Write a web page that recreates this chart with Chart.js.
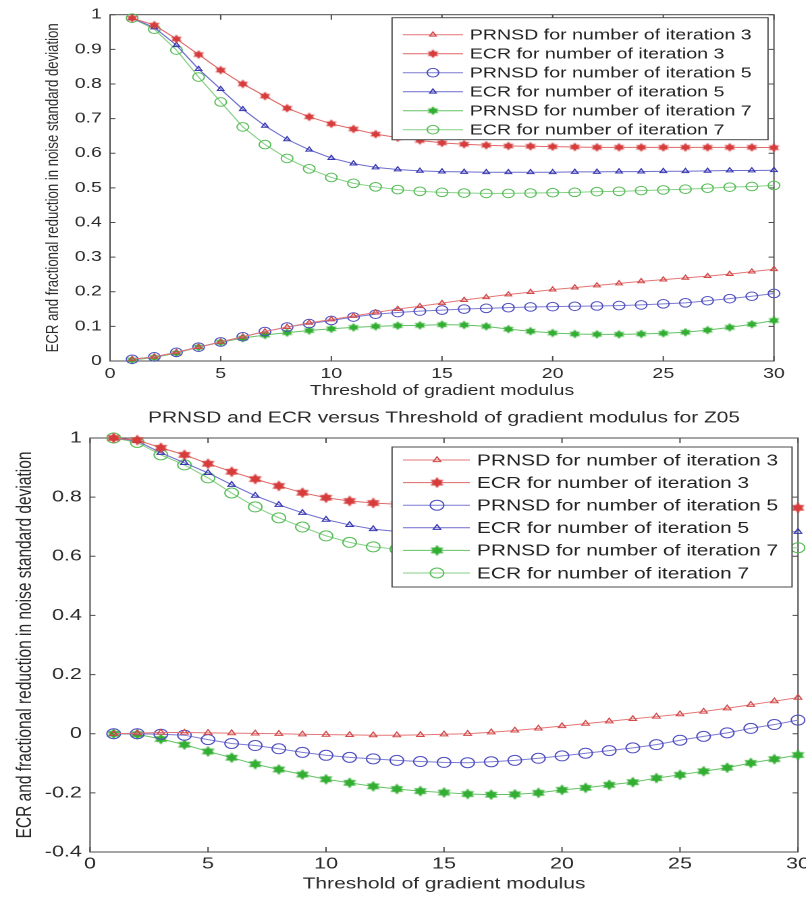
<!DOCTYPE html>
<html>
<head>
<meta charset="utf-8">
<script src="https://cdn.jsdelivr.net/npm/chart.js@4.4.1/dist/chart.umd.min.js"></script>
<style>
  html, body { margin: 0; padding: 0; background: #fff; overflow: hidden; width: 806px; height: 897px; }
  /* the reference figure is stretched sideways, so each panel is drawn narrow and scaled */
  .panel { position: absolute; left: 0; transform-origin: 0 0; transform: scaleX(1.35); }
  #topPanel { top: 0; }
  #bottomPanel { top: 400px; }
</style>
</head>
<body>
<div class="panel" id="topPanel"><canvas id="topChart" width="597" height="405"></canvas></div>
<div class="panel" id="bottomPanel"><canvas id="bottomChart" width="612" height="497"></canvas></div>
<script>
// x values (threshold of gradient modulus)
const thresholds = [1, 2, 3, 4, 5, 6, 7, 8, 9, 10, 11, 12, 13, 14, 15, 16, 17, 18, 19, 20, 21, 22, 23, 24, 25, 26, 27, 28, 29, 30];

const seriesLabels = [
  "PRNSD for number of iteration 3",
  "ECR for number of iteration 3",
  "PRNSD for number of iteration 5",
  "ECR for number of iteration 5",
  "PRNSD for number of iteration 7",
  "ECR for number of iteration 7",
];

// upper figure
const topPrnsd3 = [0.005, 0.012, 0.025, 0.04, 0.055, 0.07, 0.085, 0.098, 0.11, 0.12, 0.13, 0.14, 0.15, 0.158, 0.167, 0.176, 0.184, 0.192, 0.199, 0.206, 0.212, 0.218, 0.224, 0.23, 0.235, 0.24, 0.245, 0.251, 0.258, 0.265];
const topEcr3 = [0.99, 0.97, 0.93, 0.885, 0.84, 0.8, 0.765, 0.73, 0.705, 0.685, 0.67, 0.655, 0.645, 0.637, 0.63, 0.626, 0.623, 0.621, 0.62, 0.619, 0.618, 0.617, 0.617, 0.617, 0.617, 0.617, 0.617, 0.617, 0.617, 0.616];
const topPrnsd5 = [0.005, 0.012, 0.025, 0.04, 0.055, 0.07, 0.085, 0.098, 0.108, 0.117, 0.127, 0.135, 0.14, 0.144, 0.147, 0.15, 0.152, 0.154, 0.156, 0.157, 0.158, 0.159, 0.16, 0.162, 0.165, 0.168, 0.174, 0.18, 0.187, 0.195];
const topEcr5 = [0.99, 0.963, 0.912, 0.843, 0.785, 0.727, 0.679, 0.64, 0.61, 0.586, 0.57, 0.559, 0.553, 0.549, 0.547, 0.546, 0.545, 0.545, 0.545, 0.545, 0.546, 0.546, 0.547, 0.547, 0.548, 0.548, 0.549, 0.55, 0.55, 0.551];
const topPrnsd7 = [0.003, 0.01, 0.023, 0.04, 0.054, 0.066, 0.075, 0.082, 0.088, 0.093, 0.097, 0.1, 0.102, 0.103, 0.105, 0.104, 0.1, 0.092, 0.086, 0.081, 0.078, 0.077, 0.077, 0.078, 0.08, 0.083, 0.089, 0.097, 0.106, 0.117];
const topEcr7 = [0.99, 0.958, 0.898, 0.82, 0.748, 0.676, 0.625, 0.585, 0.555, 0.53, 0.513, 0.503, 0.495, 0.49, 0.487, 0.485, 0.484, 0.484, 0.485, 0.486, 0.487, 0.489, 0.49, 0.492, 0.494, 0.496, 0.499, 0.502, 0.504, 0.507];

// lower figure (Z05)
const botPrnsd3 = [0, 0.002, 0.004, 0.004, 0.003, 0.002, 0.001, 0, -0.002, -0.003, -0.004, -0.005, -0.005, -0.004, -0.002, 0, 0.005, 0.011, 0.018, 0.026, 0.034, 0.042, 0.05, 0.058, 0.066, 0.075, 0.086, 0.098, 0.11, 0.122];
const botEcr3 = [1, 0.993, 0.967, 0.943, 0.913, 0.886, 0.861, 0.838, 0.815, 0.798, 0.787, 0.78, 0.776, 0.773, 0.771, 0.77, 0.769, 0.768, 0.767, 0.767, 0.766, 0.766, 0.766, 0.765, 0.765, 0.765, 0.765, 0.764, 0.764, 0.764];
const botPrnsd5 = [0, 0, -0.002, -0.005, -0.02, -0.033, -0.04, -0.051, -0.063, -0.073, -0.08, -0.085, -0.09, -0.094, -0.097, -0.098, -0.095, -0.09, -0.083, -0.075, -0.066, -0.057, -0.048, -0.037, -0.022, -0.009, 0.003, 0.018, 0.031, 0.046];
const botEcr5 = [1, 0.99, 0.95, 0.916, 0.882, 0.842, 0.805, 0.774, 0.747, 0.724, 0.706, 0.692, 0.684, 0.679, 0.676, 0.674, 0.673, 0.673, 0.673, 0.673, 0.674, 0.674, 0.675, 0.676, 0.677, 0.678, 0.679, 0.68, 0.681, 0.683];
const botPrnsd7 = [0, -0.002, -0.018, -0.037, -0.06, -0.081, -0.103, -0.121, -0.138, -0.154, -0.166, -0.178, -0.187, -0.194, -0.199, -0.204, -0.206, -0.205, -0.2, -0.19, -0.183, -0.173, -0.164, -0.15, -0.139, -0.127, -0.115, -0.099, -0.086, -0.072];
const botEcr7 = [1, 0.985, 0.943, 0.909, 0.865, 0.814, 0.767, 0.73, 0.699, 0.669, 0.647, 0.632, 0.624, 0.619, 0.616, 0.614, 0.613, 0.613, 0.613, 0.614, 0.615, 0.616, 0.617, 0.618, 0.62, 0.621, 0.623, 0.625, 0.627, 0.629];

const FONT = '"Liberation Sans", Arial, sans-serif';
const NONE = "rgba(0,0,0,0)";

// filled six-pointed star, like the matlab 'h' marker
function hexagram(color, size) {
  const c = document.createElement("canvas");
  c.width = size;
  c.height = size;
  const g = c.getContext("2d");
  const r = size / 2;
  g.fillStyle = color;
  g.beginPath();
  for (let k = 0; k < 12; k++) {
    const a = -Math.PI / 2 + (k * Math.PI) / 6;
    const rr = k % 2 === 0 ? r - 0.5 : (r - 0.5) * 0.58;
    const px = r + rr * Math.cos(a);
    const py = r + rr * Math.sin(a);
    if (k === 0) g.moveTo(px, py);
    else g.lineTo(px, py);
  }
  g.closePath();
  g.fill();
  return c;
}

function makeDatasets(values, big) {
  const circleR = big ? 5 : 4.3;
  const triR = big ? 3.2 : 2.8;
  const starSize = big ? 12 : 10;
  const styles = [
    { line: "#e57575", mark: "#d04a4a", shape: "triangle", r: triR, fill: NONE },
    { line: "#e06868", mark: "#d63c3c", shape: hexagram("#d63c3c", starSize), r: 4, fill: "#d63c3c" },
    { line: "#7a7ad2", mark: "#4f4fc0", shape: "circle", r: circleR, fill: NONE },
    { line: "#6c6cce", mark: "#3838b0", shape: "triangle", r: triR, fill: NONE },
    { line: "#62c262", mark: "#32ae32", shape: hexagram("#32ae32", starSize), r: 4, fill: "#32ae32" },
    { line: "#86d086", mark: "#58bd58", shape: "circle", r: circleR, fill: NONE },
  ];
  return values.map((arr, i) => ({
    label: seriesLabels[i],
    data: thresholds.map((t, j) => ({ x: t, y: arr[j] })),
    borderColor: styles[i].line,
    borderWidth: 1,
    pointStyle: styles[i].shape,
    pointRadius: styles[i].r,
    pointBorderColor: styles[i].mark,
    pointBackgroundColor: styles[i].fill,
    pointBorderWidth: 1,
    tension: 0,
    clip: 12,
  }));
}

// matlab style frame with inward ticks on all four sides
const matlabAxes = {
  id: "matlabAxes",
  beforeDatasetsDraw(chart) {
    const { ctx, chartArea: a, scales } = chart;
    ctx.save();
    ctx.strokeStyle = "#4a4a4a";
    ctx.lineWidth = 1;
    ctx.strokeRect(a.left, a.top, a.right - a.left, a.bottom - a.top);
    ctx.beginPath();
    scales.x.ticks.forEach((t) => {
      const px = scales.x.getPixelForValue(t.value);
      ctx.moveTo(px, a.bottom);
      ctx.lineTo(px, a.bottom - 5);
      ctx.moveTo(px, a.top);
      ctx.lineTo(px, a.top + 5);
    });
    scales.y.ticks.forEach((t) => {
      const py = scales.y.getPixelForValue(t.value);
      ctx.moveTo(a.left, py);
      ctx.lineTo(a.left + 4, py);
      ctx.moveTo(a.right, py);
      ctx.lineTo(a.right - 4, py);
    });
    ctx.stroke();
    ctx.restore();
  },
};

// boxed legend in the upper right corner of the axes
const boxLegend = {
  id: "boxLegend",
  afterDraw(chart, args, o) {
    const { ctx, chartArea: a } = chart;
    const left = a.right - o.inset - o.width;
    const top = a.top + o.top;
    ctx.save();
    ctx.fillStyle = "#fff";
    ctx.fillRect(left, top, o.width, o.height);
    ctx.strokeStyle = "#4a4a4a";
    ctx.lineWidth = 1;
    ctx.strokeRect(left, top, o.width, o.height);
    ctx.font = o.font;
    ctx.textBaseline = "middle";
    chart.data.datasets.forEach((ds, i) => {
      const y = top + o.first + i * o.step;
      ctx.strokeStyle = ds.borderColor;
      ctx.lineWidth = 1;
      ctx.beginPath();
      ctx.moveTo(left + o.lineFrom, y);
      ctx.lineTo(left + o.lineTo, y);
      ctx.stroke();
      ctx.strokeStyle = ds.pointBorderColor;
      ctx.fillStyle = ds.pointBackgroundColor;
      Chart.helpers.drawPoint(ctx, { pointStyle: ds.pointStyle, radius: ds.pointRadius, rotation: 0, borderWidth: 1 }, left + o.marker, y);
      ctx.fillStyle = "#222";
      ctx.fillText(ds.label, left + o.text, y + 1);
    });
    ctx.restore();
  },
};

// matlab writes 1 and 0, not 1.0 and 0.0
function plainTick(value) {
  return String(Math.round(value * 100) / 100);
}

function axisOptions(cfg) {
  return {
    x: {
      type: "linear",
      min: 0,
      max: 30,
      grid: { display: false, drawTicks: false },
      border: { display: false },
      ticks: { stepSize: 5, padding: cfg.xPad, color: "#2a2a2a", font: { family: FONT, size: cfg.tick }, callback: plainTick },
      title: {
        display: true,
        text: "Threshold of gradient modulus",
        color: "#2a2a2a",
        font: { family: FONT, size: cfg.xTitle },
        padding: { top: 0, bottom: cfg.xTitlePad },
      },
      afterFit(scale) {
        scale.height = cfg.xHeight;
      },
    },
    y: {
      min: cfg.yMin,
      max: 1,
      grid: { display: false, drawTicks: false },
      border: { display: false },
      ticks: { stepSize: cfg.yStep, padding: cfg.yPad, color: "#2a2a2a", font: { family: FONT, size: cfg.tick }, callback: plainTick },
      title: {
        display: true,
        text: "ECR and fractional reduction in noise standard deviation",
        color: "#2a2a2a",
        font: { family: FONT, size: cfg.yTitle },
        padding: { top: cfg.yTitlePad, bottom: 0 },
      },
      afterFit(scale) {
        scale.width = cfg.yWidth;
      },
    },
  };
}

new Chart(document.getElementById("topChart"), {
  type: "line",
  data: { datasets: makeDatasets([topPrnsd3, topEcr3, topPrnsd5, topEcr5, topPrnsd7, topEcr7], false) },
  plugins: [matlabAxes, boxLegend],
  options: {
    responsive: false,
    animation: false,
    devicePixelRatio: 2,
    layout: { padding: { left: 29, right: 23.7, top: 12, bottom: 0 } },
    scales: axisOptions({
      yMin: 0, yStep: 0.1, tick: 14.5, xTitle: 14.5, yTitle: 13.2,
      xPad: 4.4, yPad: 6, xTitlePad: 5.4, yTitlePad: 2.5, xHeight: 44, yWidth: 52.5,
    }),
    plugins: {
      legend: { display: false },
      tooltip: { enabled: false },
      boxLegend: {
        inset: 4.4, top: 3, width: 278.5, height: 122,
        first: 17, step: 19, lineFrom: 8, lineTo: 52.6, marker: 30.3, text: 57.6,
        font: "14.5px " + FONT,
      },
    },
  },
});

new Chart(document.getElementById("bottomChart"), {
  type: "line",
  data: { datasets: makeDatasets([botPrnsd3, botEcr3, botPrnsd5, botEcr5, botPrnsd7, botEcr7], true) },
  plugins: [matlabAxes, boxLegend],
  options: {
    responsive: false,
    animation: false,
    devicePixelRatio: 2,
    layout: { padding: { left: 6, right: 20.9, top: 0, bottom: 0 } },
    scales: axisOptions({
      yMin: -0.4, yStep: 0.2, tick: 16, xTitle: 15.5, yTitle: 15.5,
      xPad: 2.7, yPad: 6, xTitlePad: 3.7, yTitlePad: 3.2, xHeight: 45, yWidth: 60.7,
    }),
    plugins: {
      legend: { display: false },
      tooltip: { enabled: false },
      title: {
        display: true,
        fullSize: false,
        text: "PRNSD and ECR versus Threshold of gradient modulus for Z05",
        color: "#2a2a2a",
        font: { family: FONT, size: 15.5, weight: "normal" },
        padding: { top: 8.7, bottom: 10.7 },
      },
      boxLegend: {
        inset: 4.4, top: 9, width: 296.3, height: 140,
        first: 13, step: 22.6, lineFrom: 8.1, lineTo: 57.6, marker: 33.3, text: 62.9,
        font: "15.5px " + FONT,
      },
    },
  },
});
</script>
</body>
</html>
